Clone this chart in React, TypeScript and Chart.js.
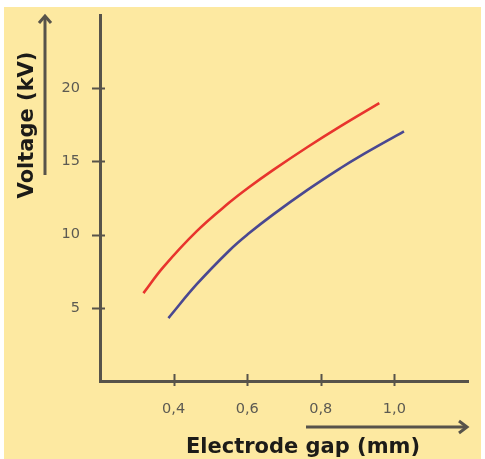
import React, { useEffect, useRef } from "react";
import { Chart, registerables } from "chart.js";

Chart.register(...registerables);

const redGap = [0.318, 0.372, 0.463, 0.553, 0.603, 0.671, 0.762, 0.853, 0.959];
const redVoltage = [6.0, 7.78, 10.24, 12.22, 13.2, 14.42, 15.95, 17.39, 18.98];
const blueGap = [0.386, 0.463, 0.553, 0.603, 0.671, 0.762, 0.853, 0.907, 1.026];
const blueVoltage = [4.3, 6.61, 8.95, 10.05, 11.38, 13.02, 14.53, 15.36, 17.05];

const xTickValues = [0.4, 0.6, 0.8, 1.0];
const xTickLabels = ["0,4", "0,6", "0,8", "1,0"];
const yTickValues = [5, 10, 15, 20];
const yTickLabels = ["5", "10", "15", "20"];

const xTitle = "Electrode gap (mm)";
const yTitle = "Voltage (kV)";

const BG = "#fde9a1";
const AXIS = "#57534a";
const TICK_TEXT = "#5c5a52";
const TITLE = "#1c1b18";
const FONT = "'DejaVu Sans', sans-serif";

const decorPlugin = {
  id: "decor",
  beforeDraw(chart: any) {
    const { ctx, width, height } = chart;
    ctx.save();
    ctx.fillStyle = "#ffffff";
    ctx.fillRect(0, 0, width, height);
    ctx.fillStyle = BG;
    ctx.fillRect(4, 7, width - 8, height - 7);
    ctx.restore();
  },
  afterDraw(chart: any) {
    const { ctx, chartArea } = chart;
    const xs = chart.scales.x;
    const ys = chart.scales.y;
    ctx.save();
    ctx.strokeStyle = AXIS;
    ctx.lineWidth = 2;
    // crossing tick marks
    yTickValues.forEach((v) => {
      const py = Math.round(ys.getPixelForValue(v)) + 0.5;
      ctx.beginPath();
      ctx.moveTo(chartArea.left - 8, py);
      ctx.lineTo(chartArea.left + 5, py);
      ctx.stroke();
    });
    xTickValues.forEach((v) => {
      const px = Math.round(xs.getPixelForValue(v)) + 0.5;
      ctx.beginPath();
      ctx.moveTo(px, chartArea.bottom - 7);
      ctx.lineTo(px, chartArea.bottom + 5);
      ctx.stroke();
    });
    // y arrow
    ctx.lineWidth = 3;
    const ax = chartArea.left - 55;
    ctx.beginPath();
    ctx.moveTo(ax, chartArea.top + 2);
    ctx.lineTo(ax, chartArea.top + 160);
    ctx.stroke();
    ctx.beginPath();
    ctx.moveTo(ax - 6, chartArea.top + 8);
    ctx.lineTo(ax, chartArea.top + 1);
    ctx.lineTo(ax + 6, chartArea.top + 8);
    ctx.stroke();
    // x arrow
    const ay = chartArea.bottom + 46;
    ctx.beginPath();
    ctx.moveTo(chartArea.left + 206, ay);
    ctx.lineTo(chartArea.right - 1, ay);
    ctx.stroke();
    ctx.beginPath();
    ctx.moveTo(chartArea.right - 9, ay - 6);
    ctx.lineTo(chartArea.right - 1, ay);
    ctx.lineTo(chartArea.right - 9, ay + 6);
    ctx.stroke();
    // titles
    ctx.fillStyle = TITLE;
    ctx.font = "bold 21px " + FONT;
    ctx.textAlign = "center";
    ctx.textBaseline = "alphabetic";
    ctx.fillText(xTitle, chartArea.left + 203, chartArea.bottom + 72);
    ctx.translate(chartArea.left - 67, chartArea.top + 110);
    ctx.rotate(-Math.PI / 2);
    ctx.fillText(yTitle, 0, 0);
    ctx.restore();
  },
};

export default function App() {
  const ref = useRef<HTMLCanvasElement | null>(null);
  useEffect(() => {
    document.body.style.margin = "0";
    const canvas = ref.current!;
    const chart = new Chart(canvas, {
      type: "line",
      data: {
        datasets: [
          {
            label: "red",
            data: redGap.map((x, i) => ({ x, y: redVoltage[i] })),
            borderColor: "#e8342d",
            borderWidth: 2.6,
            pointRadius: 0,
            tension: 0.4,
            fill: false,
          },
          {
            label: "blue",
            data: blueGap.map((x, i) => ({ x, y: blueVoltage[i] })),
            borderColor: "#4a4891",
            borderWidth: 2.6,
            pointRadius: 0,
            tension: 0.4,
            fill: false,
          },
        ],
      },
      options: {
        animation: false,
        responsive: false,
        events: [],
        layout: { padding: { top: 15, right: 17, left: 0, bottom: 0 } },
        plugins: {
          legend: { display: false },
          tooltip: { enabled: false },
          title: { display: false },
        },
        scales: {
          x: {
            type: "linear",
            min: 0.2,
            max: 1.2,
            afterBuildTicks: (s: any) => {
              s.ticks = xTickValues.map((v) => ({ value: v }));
            },
            afterFit: (s: any) => {
              s.height = 78;
              s.paddingLeft = 0;
              s.paddingRight = 0;
            },
            ticks: {
              callback: (v: any) => {
                const i = xTickValues.findIndex((t) => Math.abs(t - v) < 1e-6);
                return i >= 0 ? xTickLabels[i] : "";
              },
              color: TICK_TEXT,
              font: { family: FONT, size: 14.5 },
              padding: 20,
              maxRotation: 0,
              autoSkip: false,
            },
            grid: { display: false, drawTicks: false },
            border: { display: true, color: AXIS, width: 3 },
          },
          y: {
            type: "linear",
            min: 0,
            max: 25,
            afterBuildTicks: (s: any) => {
              s.ticks = yTickValues.map((v) => ({ value: v }));
            },
            afterFit: (s: any) => {
              s.width = 100;
              s.paddingTop = 0;
              s.paddingBottom = 0;
            },
            ticks: {
              callback: (v: any) => {
                const i = yTickValues.findIndex((t) => Math.abs(t - v) < 1e-6);
                return i >= 0 ? yTickLabels[i] : "";
              },
              color: TICK_TEXT,
              font: { family: FONT, size: 14.5 },
              padding: 20,
              autoSkip: false,
            },
            grid: { display: false, drawTicks: false },
            border: { display: true, color: AXIS, width: 3 },
          },
        },
      },
      plugins: [decorPlugin],
    });
    return () => chart.destroy();
  }, []);
  return (
    <div style={{ width: 485, height: 459 }}>
      <canvas ref={ref} width={485} height={459} style={{ display: "block" }} />
    </div>
  );
}
